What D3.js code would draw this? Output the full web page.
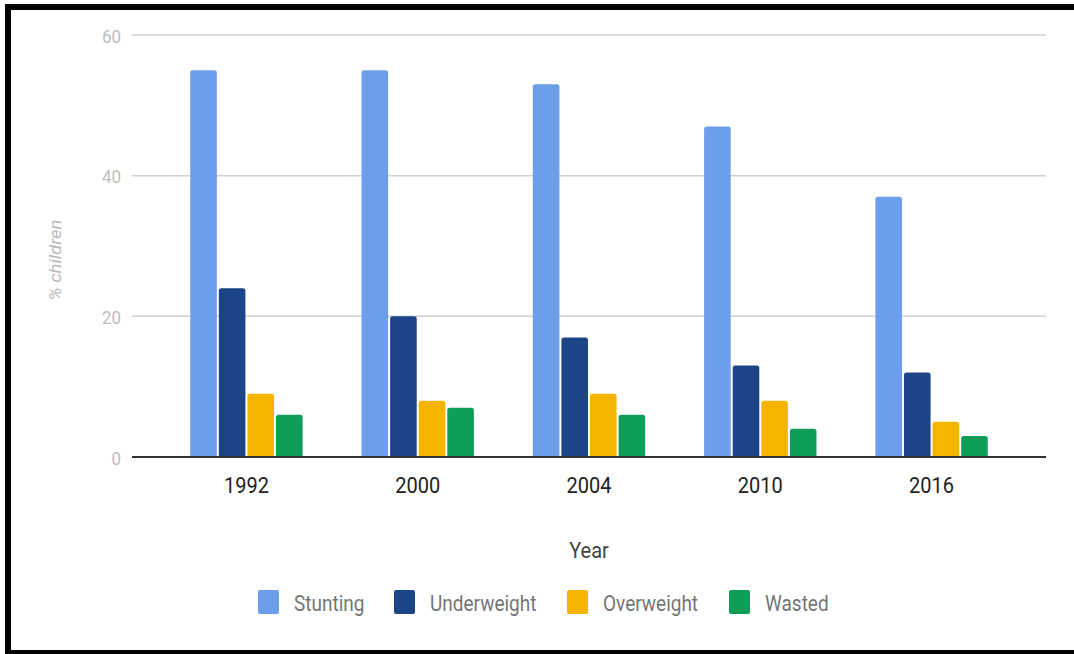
<!DOCTYPE html>
<html>
<head>
<meta charset="utf-8">
<script src="https://cdn.jsdelivr.net/npm/d3@7/dist/d3.min.js"></script>
<style>
  html, body { margin: 0; padding: 0; background: #fff; }
  svg { display: block; font-family: Roboto, "Noto Sans", sans-serif; }
</style>
</head>
<body>
<svg id="chart" width="1074" height="654"></svg>
<script>
// Child nutrition indicators by survey year (% of children)
const years = ["1992", "2000", "2004", "2010", "2016"];
const seriesNames = ["Stunting", "Underweight", "Overweight", "Wasted"];
const stunting    = [55, 55, 53, 47, 37];
const underweight = [24, 20, 17, 13, 12];
const overweight  = [9, 8, 9, 8, 5];
const wasted      = [6, 7, 6, 4, 3];
const yTicks = [0, 20, 40, 60];
const colors = ["#6d9eeb", "#1c4587", "#f4b400", "#0f9d58"];

const seriesValues = [stunting, underweight, overweight, wasted];
const rows = years.map((y, i) => ({
  year: y,
  values: seriesNames.map((s, k) => ({ key: s, value: seriesValues[k][i] }))
}));

const svg = d3.select("#chart");
const plot = { left: 132, right: 1046, top: 35, bottom: 457 };
const TY = 1.12; // vertical text stretch

const x = d3.scaleBand().domain(years)
  .range([plot.left, plot.right])
  .paddingInner(0.344).paddingOuter(0.34);
const xs = d3.scaleBand().domain(seriesNames)
  .range([0, x.bandwidth()]).paddingInner(0.07);
const y = d3.scaleLinear().domain([0, 60]).range([plot.bottom, plot.top]);
const color = d3.scaleOrdinal().domain(seriesNames).range(colors);

// frame
svg.append("rect")
  .attr("x", 8).attr("y", 7).attr("width", 1100).attr("height", 646)
  .attr("fill", "none").attr("stroke", "#000").attr("stroke-width", 6);

// gridlines
svg.append("g").selectAll("line")
  .data(yTicks.filter(d => d !== 0)).join("line")
  .attr("x1", plot.left).attr("x2", plot.right)
  .attr("y1", d => y(d)).attr("y2", d => y(d))
  .attr("stroke", "#d0d0d0").attr("stroke-width", 1.5);

// y tick labels
svg.append("g").selectAll("text")
  .data(yTicks).join("text")
  .attr("transform", d => `translate(121,${y(d) + 7.5}) scale(1,${TY})`)
  .attr("text-anchor", "end")
  .attr("font-size", 17)
  .attr("fill", "#bdbdbd")
  .text(d => d);

// y axis title
svg.append("text")
  .attr("transform", `translate(61,260) rotate(-90) scale(${TY},1)`)
  .attr("text-anchor", "middle")
  .attr("font-size", 16.5)
  .attr("font-style", "italic")
  .attr("fill", "#b8b8b8")
  .text("% children");

// bars with rounded top corners
function barPath(x0, w, yTop, yBase, r) {
  r = Math.min(r, w / 2, (yBase - yTop));
  return `M${x0},${yBase}V${yTop + r}Q${x0},${yTop} ${x0 + r},${yTop}` +
         `H${x0 + w - r}Q${x0 + w},${yTop} ${x0 + w},${yTop + r}V${yBase}Z`;
}

const groups = svg.append("g").selectAll("g")
  .data(rows).join("g")
  .attr("transform", d => `translate(${x(d.year)},0)`);

groups.selectAll("path")
  .data(d => d.values).join("path")
  .attr("d", d => barPath(xs(d.key), xs.bandwidth(), y(d.value), y(0), 2.5))
  .attr("fill", d => color(d.key));

// baseline
svg.append("line")
  .attr("x1", plot.left).attr("x2", plot.right)
  .attr("y1", y(0)).attr("y2", y(0))
  .attr("stroke", "#333").attr("stroke-width", 2);

// x tick labels
svg.append("g").selectAll("text")
  .data(years).join("text")
  .attr("transform", d => `translate(${x(d) + x.bandwidth() / 2},492.5) scale(1,${TY})`)
  .attr("text-anchor", "middle")
  .attr("font-size", 20)
  .attr("fill", "#222")
  .text(d => d);

// x axis title
svg.append("text")
  .attr("transform", `translate(589,558) scale(1,${TY})`)
  .attr("text-anchor", "middle")
  .attr("font-size", 20)
  .attr("fill", "#424242")
  .text("Year");

// legend
const legendX = [258, 394, 567, 729];
const legend = svg.append("g").selectAll("g")
  .data(seriesNames).join("g")
  .attr("transform", (d, i) => `translate(${legendX[i]},590)`);
legend.append("rect")
  .attr("width", 21).attr("height", 24).attr("rx", 2)
  .attr("fill", d => color(d));
legend.append("text")
  .attr("transform", `translate(36,21) scale(1,${TY})`)
  .attr("font-size", 19)
  .attr("fill", "#757575")
  .text(d => d);
</script>
</body>
</html>
